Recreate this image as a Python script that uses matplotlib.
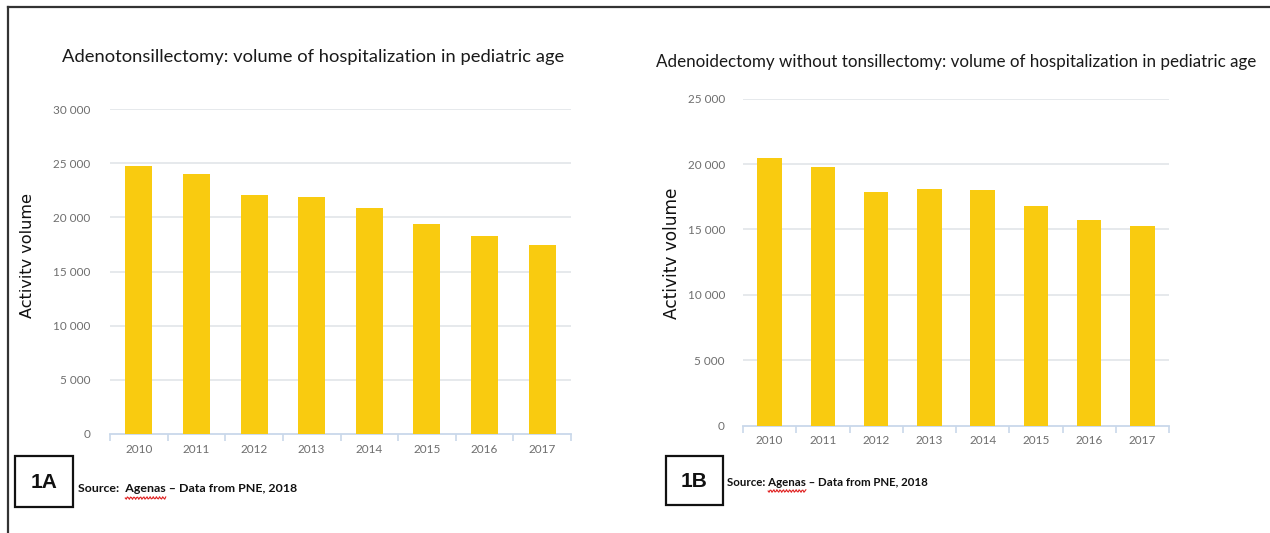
import numpy as np
import matplotlib
matplotlib.use("Agg")
import matplotlib.pyplot as plt
from matplotlib.patches import Rectangle
from matplotlib.lines import Line2D

# ---- data ----
years = ["2010", "2011", "2012", "2013", "2014", "2015", "2016", "2017"]
adenotonsillectomy = [24750, 24000, 22050, 21850, 20900, 19350, 18300, 17450]
adenoidectomy = [20450, 19750, 17850, 18100, 18000, 16800, 15700, 15250]

title_a = "Adenotonsillectomy: volume of hospitalization in pediatric age"
title_b = "Adenoidectomy without tonsillectomy: volume of hospitalization in pediatric age"
ylabel = "Activitv volume"
source_a = ("Source:  ", "Agenas", " \u2013 Data from PNE, 2018")
source_b = ("Source: ", "Agenas", " \u2013 Data from PNE, 2018")

W, H = 1270, 533
BAR = "#F9CB10"
GRID = "#E4E7EA"
AXIS = "#C9D8EA"
TICKTXT = "#6E6E6E"
NARROW = ["Lato", "DejaVu Sans"]

fig = plt.figure(figsize=(W / 100, H / 100), dpi=100)
fig.patch.set_facecolor("white")


def fx(x):
    return x / W


def fy(y):
    return 1 - y / H


renderer = fig.canvas.get_renderer()


def fit_width(t, width_px):
    bb = t.get_window_extent(renderer)
    t.set_fontsize(t.get_fontsize() * width_px / bb.width)


def fmt(v):
    return f"{int(v):,}".replace(",", " ")


def panel(rect_px, values, ymax, barw, label_pad):
    x0, y_top, x1, y0 = rect_px
    ax = fig.add_axes([fx(x0), fy(y0), fx(x1) - fx(x0), (y0 - y_top) / H])
    idx = np.arange(len(years))
    ax.bar(idx, values, width=barw, color=BAR, zorder=3)
    ax.set_xlim(-0.5, len(years) - 0.5)
    ax.set_ylim(0, ymax)
    yt = np.arange(0, ymax + 1, 5000)
    ax.set_yticks(yt)
    ax.set_yticklabels([fmt(v) for v in yt], family=NARROW, fontsize=8.5,
                       color=TICKTXT)
    for v in yt[1:]:
        ax.axhline(v, color=GRID, lw=1.3, zorder=1)
    ax.tick_params(axis="y", length=0, pad=label_pad)
    ax.set_xticks(idx)
    ax.set_xticklabels(years, family=NARROW, fontsize=8.5, color=TICKTXT)
    ax.set_xticks(np.arange(-0.5, len(years)), minor=True)
    ax.tick_params(axis="x", which="major", length=0, pad=7)
    ax.tick_params(axis="x", which="minor", length=5, width=1.2, color=AXIS)
    for s in ("top", "right", "left"):
        ax.spines[s].set_visible(False)
    ax.spines["bottom"].set_color(AXIS)
    ax.spines["bottom"].set_linewidth(1.3)
    ax.set_facecolor("white")
    return ax


panel((110, 109, 571, 434), adenotonsillectomy, 30000, 0.47, 14)
panel((743, 98.6, 1169, 425.7), adenoidectomy, 25000, 0.46, 13)

# titles
ta = fig.text(fx(62), fy(57), title_a, family=NARROW, fontsize=15,
              color="#1a1a1a", ha="left", va="center")
fit_width(ta, 503)
tb = fig.text(fx(656), fy(62), title_b, family=NARROW, fontsize=15,
              color="#1a1a1a", ha="left", va="center")
fit_width(tb, 602)

# y-axis labels
ya = fig.text(fx(28), fy(255), ylabel, family="DejaVu Sans", fontsize=10,
              rotation=90, ha="center", va="center", color="#111111")
ya.set_fontsize(ya.get_fontsize() * 125 / ya.get_window_extent(renderer).height)
yb = fig.text(fx(672), fy(253), ylabel, family="DejaVu Sans", fontsize=10,
              rotation=90, ha="center", va="center", color="#111111")
yb.set_fontsize(yb.get_fontsize() * 132 / yb.get_window_extent(renderer).height)

# outer frame (top and left edges)
fig.add_artist(Line2D([fx(8), 1.0], [fy(7), fy(7)], color="#333333", lw=1.6,
                      transform=fig.transFigure))
fig.add_artist(Line2D([fx(8), fx(8)], [fy(7), 0.0], color="#333333", lw=1.6,
                      transform=fig.transFigure))


def tag_box(x0, y0, x1, y1, label):
    fig.add_artist(Rectangle((fx(x0), fy(y1)), fx(x1) - fx(x0), (y1 - y0) / H,
                             transform=fig.transFigure, fill=False,
                             edgecolor="#111111", lw=1.6))
    fig.text(fx((x0 + x1) / 2), fy((y0 + y1) / 2 + 1), label,
             family="Liberation Sans", fontweight="bold", fontsize=15,
             ha="center", va="center", color="#111111")


def source_line(x, y, parts, width_px):
    full = fig.text(fx(x), fy(y), "".join(parts), family=NARROW,
                    fontweight="bold", fontsize=11, ha="left", va="center",
                    color="#111111")
    fit_width(full, width_px)
    size = full.get_fontsize()
    # locate the underlined word to draw a spell-check squiggle under it
    pre = fig.text(0, 0, parts[0], family=NARROW, fontweight="bold",
                   fontsize=size)
    word = fig.text(0, 0, parts[0] + parts[1], family=NARROW,
                    fontweight="bold", fontsize=size)
    w0 = pre.get_window_extent(renderer).width
    w1 = word.get_window_extent(renderer).width
    pre.remove()
    word.remove()
    xs = np.linspace(x + w0, x + w1, 40)
    ys = y + 9 + 1.3 * np.sin((xs - xs[0]) / 1.6 * np.pi)
    fig.add_artist(Line2D(fx(xs), fy(ys), color="#E02020", lw=0.8,
                          transform=fig.transFigure))


tag_box(15, 456, 73, 507, "1A")
source_line(78, 489, source_a, 220)
tag_box(666, 456, 723, 505, "1B")
source_line(727, 482, source_b, 200)

fig.savefig("out.png", dpi=100, facecolor="white")
